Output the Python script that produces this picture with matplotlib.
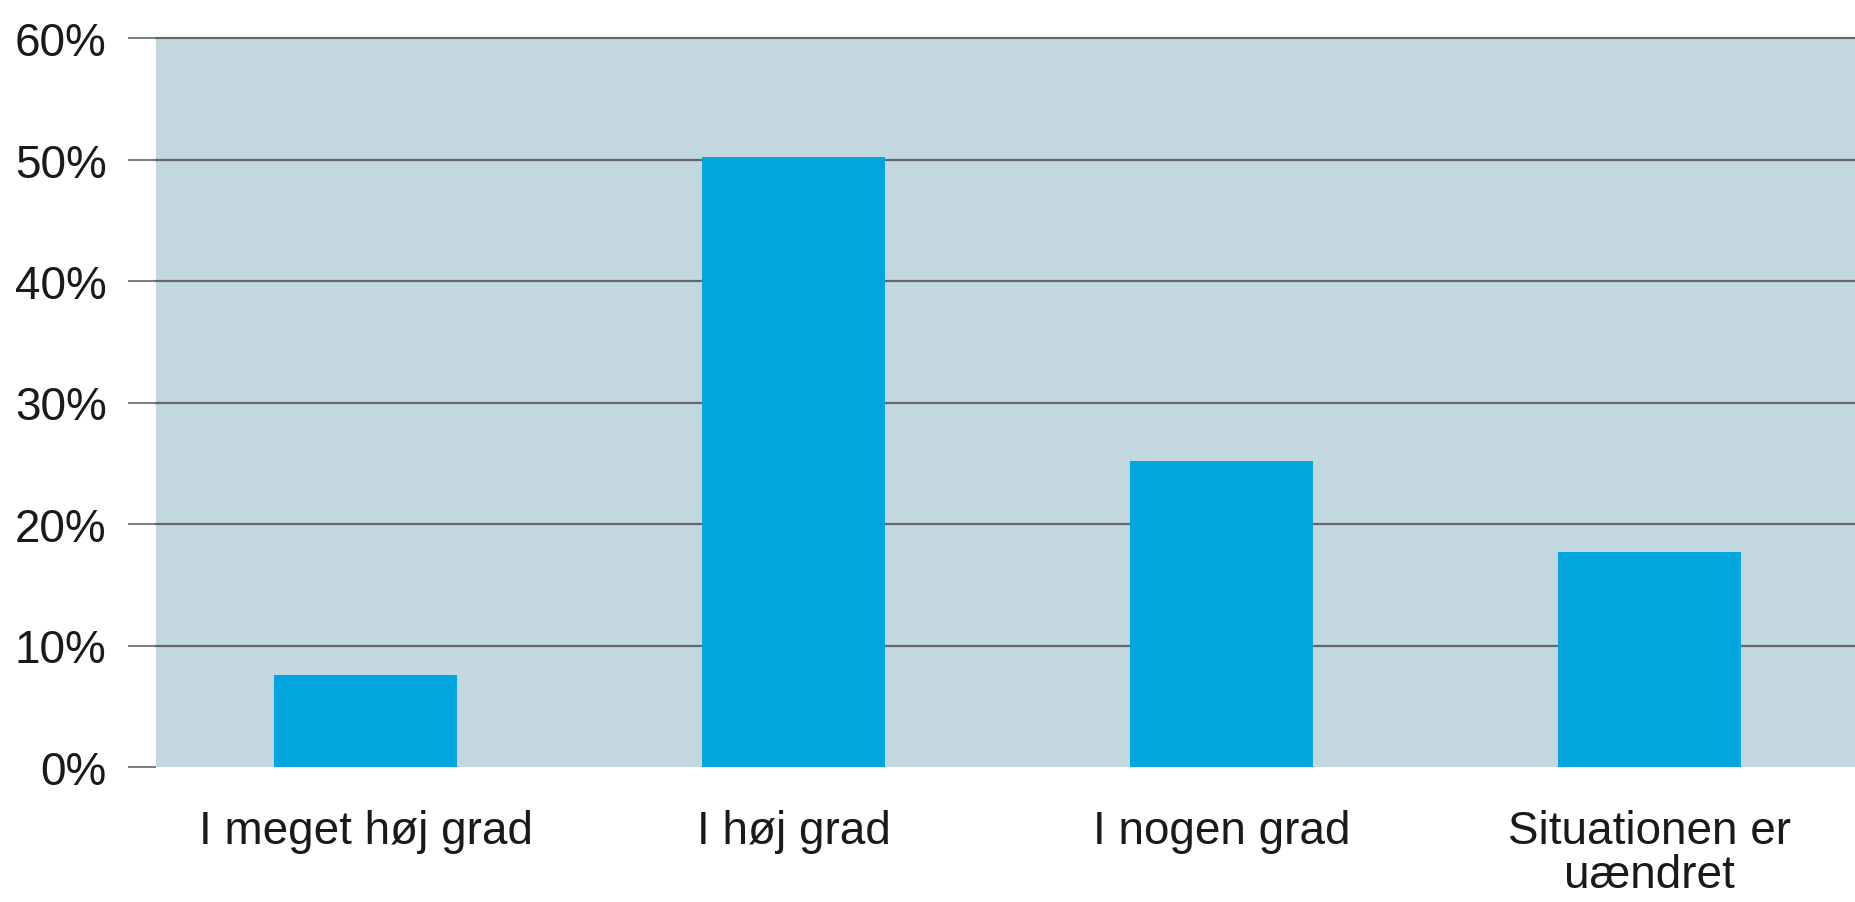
import numpy as np
import matplotlib
matplotlib.use('Agg')
import matplotlib.pyplot as plt

# data
categories = ['I meget høj grad', 'I høj grad', 'I nogen grad', 'Situationen er\nuændret']
values = [7.6, 50.2, 25.2, 17.7]
yticks = [0, 10, 20, 30, 40, 50, 60]
ytick_labels = ['0%', '10%', '20%', '30%', '40%', '50%', '60%']

plt.rcParams['font.family'] = ['Liberation Sans', 'DejaVu Sans']

fig = plt.figure(figsize=(18.55, 9.03), dpi=100)
ax = fig.add_axes([156/1855, 135/903, 1 - 156/1855, (768 - 39)/903])

ax.set_facecolor('#c3d8de')
x = np.arange(len(categories))
ax.bar(x, values, width=0.427, color='#00a6dd', zorder=3)

ax.set_xlim(-0.49, 3.48)
ax.set_ylim(0, 60)
ax.set_yticks(yticks)
ax.set_yticklabels(ytick_labels)
ax.set_xticks(x)
ax.set_xticklabels(categories, linespacing=1.0)

for s in ax.spines.values():
    s.set_visible(False)

ax.yaxis.grid(True, color='#666666', linewidth=1.6, zorder=1)
ax.set_axisbelow(True)
gl = ax.yaxis.get_gridlines()
gl[0].set_visible(False)
for g in gl:
    g.set_clip_on(False)

ax.tick_params(axis='y', length=20, width=1.2, color='#666666', pad=15.5,
               labelsize=33, labelcolor='#1a1a1a')
ax.tick_params(axis='x', length=0, pad=30, labelsize=33, labelcolor='#1a1a1a')

fig.savefig('out.png', dpi=100)
